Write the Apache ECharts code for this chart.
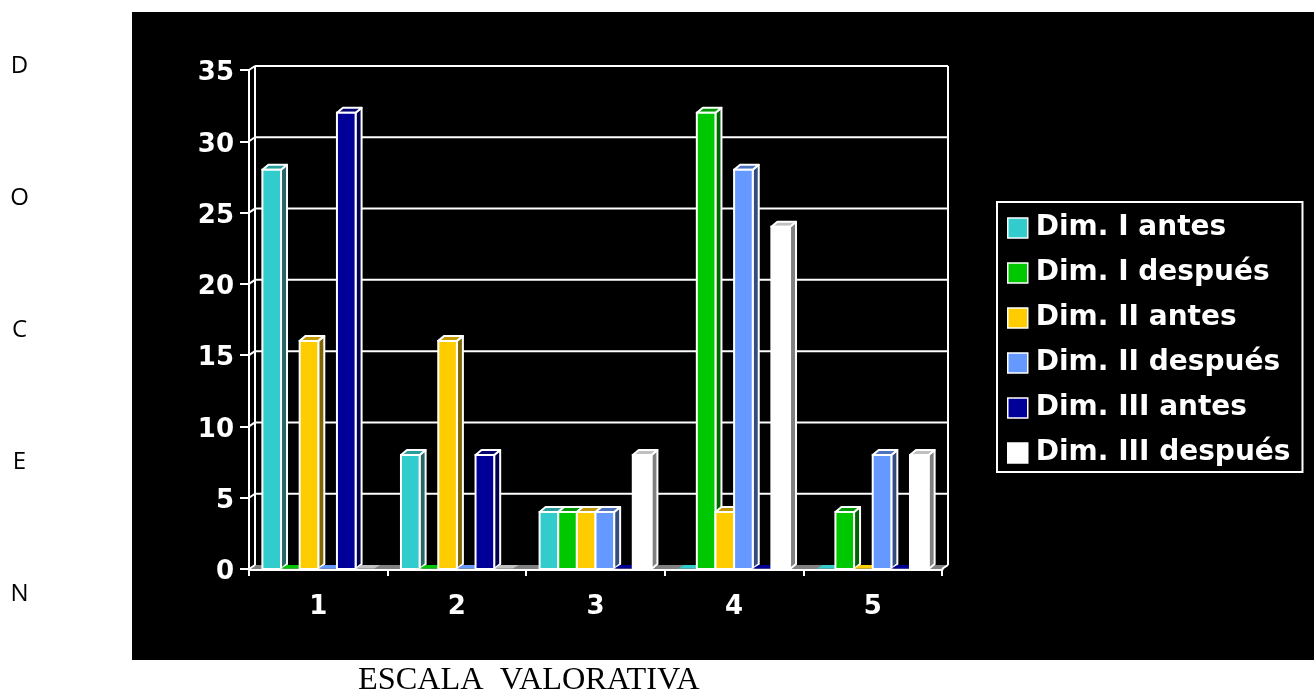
<!DOCTYPE html>
<html><head><meta charset="utf-8">
<style>html,body{margin:0;padding:0;background:#fff}#c{width:1314px;height:692px}</style>
<script src="https://cdn.jsdelivr.net/npm/echarts@6/dist/echarts.min.js"></script>
</head><body><div id="c"></div>
<script>
const categories = ['1','2','3','4','5'];
const seriesNames = ['Dim. I antes','Dim. I después','Dim. II antes','Dim. II después','Dim. III antes','Dim. III después'];
const dimIAntes = [28,8,4,0,0];
const dimIDespues = [0,0,4,32,4];
const dimIIAntes = [16,16,4,4,0];
const dimIIDespues = [0,0,4,28,8];
const dimIIIAntes = [32,8,0,0,0];
const dimIIIDespues = [0,0,8,24,8];
const yTicks = [0,5,10,15,20,25,30,35];
const sideLetters = ['D','O','C','E','N'];
const xTitle = 'ESCALA  VALORATIVA';

const values = [dimIAntes,dimIDespues,dimIIAntes,dimIIDespues,dimIIIAntes,dimIIIDespues];
const colors = ['#33CCCC','#00C800','#FFCC00','#6699FF','#000099','#FFFFFF'];
const tops   = ['#2A9C9C','#009800','#C09A00','#4D73C0','#000073','#C0C0C0'];
const sides  = ['#266666','#006400','#806600','#334D80','#00004D','#808080'];
const DX = 6, DY = 4, BDY = 5, W = '#FFFFFF';
const font = '"DejaVu Sans"';

function poly(points, fill, z2){
  return {type:'polygon', z2:z2||1, shape:{points}, style:{fill, stroke:W, lineWidth:2, lineJoin:'round'}};
}
function barRender(i){
  return function(params, api){
    const cat = api.value(0), v = api.value(1);
    const base = api.coord([cat,0]), top = api.coord([cat,v]);
    const band = api.size([1,0])[0];
    const step = band*0.1345;
    const x0 = base[0]+(i-3)*step, x1 = x0+step, y0 = base[1], y1 = top[1];
    const children = [];
    if (v === 0) {
      children.push({type:'polygon', shape:{points:[[x0,y0-0.5],[x1,y0-0.5],[x1+DX,y0-DY],[x0+DX,y0-DY]]}, style:{fill:i===5?'#C0C0C0':colors[i]}});
      return {type:'group', children};
    }
    children.push(poly([[x1,y0],[x1+DX,y0-BDY],[x1+DX,y1-BDY],[x1,y1]], sides[i]));
    children.push(poly([[x0,y1],[x0+DX,y1-BDY],[x1+DX,y1-BDY],[x1,y1]], tops[i]));
    children.push({type:'rect', z2:2, shape:{x:x0,y:y1,width:step,height:y0-y1}, style:{fill:colors[i],stroke:W,lineWidth:2}});
    return {type:'group', children};
  };
}
function wallRender(params, api){
  const v = api.value(0);
  const cs = params.coordSys;
  const p = api.coord([0,v]);
  const xl = cs.x, xr = cs.x+cs.width, y = p[1];
  const st = {stroke:W, lineWidth:2, fill:null};
  const children = [];
  if (v === 0) {
    children.push({type:'polygon', shape:{points:[[xl,y],[xr,y],[xr+DX,y-DY],[xl+DX,y-DY]]}, style:{fill:'#808080'}});
    children.push({type:'line', shape:{x1:xl+DX,y1:y-DY,x2:xl+DX,y2:cs.y-DY}, style:st});
    children.push({type:'line', shape:{x1:xr+DX,y1:y-DY,x2:xr+DX,y2:cs.y-DY}, style:st});
    children.push({type:'line', shape:{x1:xr,y1:y,x2:xr+DX,y2:y-DY}, style:st});
  } else {
    children.push({type:'line', shape:{x1:xl+DX,y1:y-DY,x2:xr+DX,y2:y-DY}, style:st});
  }
  children.push({type:'line', shape:{x1:xl,y1:y,x2:xl+DX,y2:y-DY}, style:st});
  return {type:'group', children};
}

const series = [{
  type:'custom', name:'__wall', renderItem:wallRender, silent:true, z:1,
  encode:{y:0}, data:yTicks.map(t=>[t]), animation:false, clip:false
}].concat(seriesNames.map((n,i)=>({
  type:'custom', name:n, z:3+i, clip:false, animation:false,
  renderItem:barRender(i), encode:{x:0,y:1},
  itemStyle:{color:colors[i]},
  data:values[i].map((v,c)=>[c,v])
})));

const graphic = [
  {type:'rect', z:-10, silent:true, shape:{x:132,y:12,width:1182,height:648}, style:{fill:'#000'}},
  {type:'text', x:358, y:681, style:{text:xTitle, fill:'#000', font:'32.3px "Liberation Serif"', textVerticalAlign:'middle'}}
].concat(sideLetters.map((t,i)=>({type:'text', x:19.5, y:66+132*i, style:{text:t, fill:'#000', font:'24px "Open Sans"', textAlign:'center', textVerticalAlign:'middle'}})));

const chart = echarts.init(document.getElementById('c'), null, {renderer:'canvas'});
chart.setOption({
  animation:false,
  backgroundColor:'#fff',
  grid:{left:249, top:70, width:693, height:499, containLabel:false},
  xAxis:{type:'category', data:categories, boundaryGap:true,
    axisLine:{show:true,lineStyle:{color:W,width:3}},
    axisTick:{show:true,length:7,alignWithLabel:false,lineStyle:{color:W,width:2}},
    axisLabel:{color:W,fontFamily:font,fontWeight:'bold',fontSize:26,margin:25},
    splitLine:{show:false}},
  yAxis:{type:'value', min:0, max:35, interval:5,
    axisLine:{show:true,lineStyle:{color:W,width:2}},
    axisTick:{show:true,length:9,lineStyle:{color:W,width:2}},
    axisLabel:{color:W,fontFamily:font,fontWeight:'bold',fontSize:26,margin:15,verticalAlign:'top',lineHeight:7},
    splitLine:{show:false}},
  legend:{show:true, orient:'vertical', left:997, top:202,
    padding:[12,12,5,10], itemGap:17, itemWidth:20, itemHeight:20, icon:'rect', selectedMode:false,
    borderColor:W, borderWidth:2, backgroundColor:'#000',
    data:seriesNames,
    itemStyle:{borderColor:W,borderWidth:1.5},
    textStyle:{color:W,fontFamily:font,fontWeight:'bold',fontSize:28,padding:[4,0,0,3]}},
  graphic,
  series
});
</script></body></html>
